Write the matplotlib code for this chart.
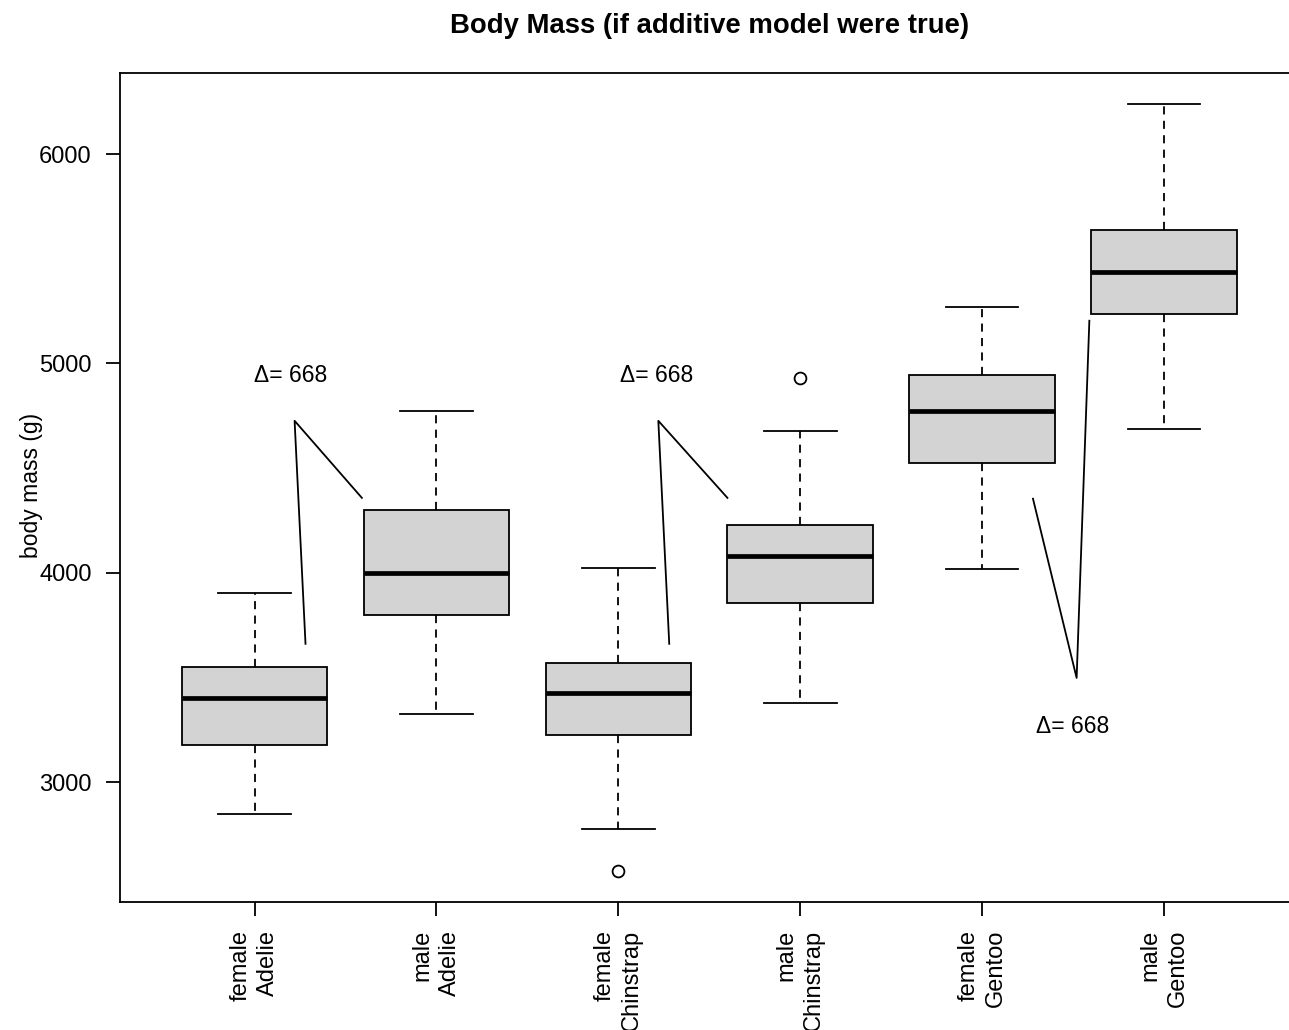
import matplotlib
matplotlib.use("Agg")
import matplotlib.pyplot as plt

plt.rcParams['font.family'] = ['Liberation Sans', 'DejaVu Sans']

# Group labels (sex / species) and box summary statistics in grams
labels = ["female\nAdelie", "male\nAdelie", "female\nChinstrap",
          "male\nChinstrap", "female\nGentoo", "male\nGentoo"]
whislo = [2850, 3325, 2775, 3380, 4020, 4685]
q1 = [3180, 3797, 3225, 3855, 4525, 5235]
med = [3402, 3999, 3425, 4080, 4773, 5435]
q3 = [3551, 4298, 3571, 4229, 4945, 5635]
whishi = [3904, 4774, 4022, 4679, 5270, 6240]
fliers = [[], [], [2575], [4930], [], []]

yticks = [3000, 4000, 5000, 6000]

# Connector lines showing the additive shift between female and male groups
delta_value = 668
conn_x = [[1.28, 1.22, 1.59], [3.28, 3.22, 3.60], [5.28, 5.52, 5.59]]
conn_y = [[3661, 4726, 4358], [3661, 4726, 4358], [4354, 3498, 5204]]
delta_x = [1.20, 3.21, 5.50]
delta_y = [4940, 4940, 3265]

LW = 1.3
W, H, DPI = 1289, 1030, 100
fig = plt.figure(figsize=(W / DPI, H / DPI), dpi=DPI)
ax = fig.add_axes([120 / W, 1 - 902 / H, 1178.5 / W, (902 - 73) / H])

stats = []
for i in range(len(labels)):
    stats.append(dict(med=med[i], q1=q1[i], q3=q3[i],
                      whislo=whislo[i], whishi=whishi[i],
                      fliers=fliers[i], label=labels[i]))

positions = list(range(1, len(labels) + 1))
ax.bxp(stats, positions=positions, widths=0.8, capwidths=0.4,
       patch_artist=True, showfliers=True,
       boxprops=dict(facecolor='#D3D3D3', edgecolor='black', linewidth=LW),
       whiskerprops=dict(color='black', linewidth=LW, linestyle=(0, (4.5, 3.5))),
       capprops=dict(color='black', linewidth=LW),
       medianprops=dict(color='black', linewidth=3.4, solid_capstyle='butt'),
       flierprops=dict(marker='o', markersize=8.5, markerfacecolor='none',
                       markeredgecolor='black', markeredgewidth=LW))

for xs, ys in zip(conn_x, conn_y):
    ax.plot(xs, ys, color='black', linewidth=LW)
for x, y in zip(delta_x, delta_y):
    ax.text(x, y, "\u0394= %d" % delta_value, ha='center', va='center',
            fontsize=16.5)

ax.set_xlim(0.26, 6.74)
ax.set_ylim(2428, 6387)
ax.set_yticks(yticks)
ax.set_yticklabels([str(v) for v in yticks], fontsize=17)
ax.set_xticks(positions)
ax.set_xticklabels(labels, fontsize=17, rotation=90, ha='center',
                   va='top', multialignment='right')
ax.tick_params(axis='both', length=10, width=LW, direction='out')
ax.tick_params(axis='y', pad=10.5)
ax.tick_params(axis='x', pad=10)
for lbl in ax.get_xticklabels():
    lbl.set_linespacing(1.3)
for sp in ax.spines.values():
    sp.set_linewidth(LW)

ax.set_title("Body Mass (if additive model were true)", fontsize=19.8,
             fontweight='bold', pad=28.8)
fig.text(31.5 / W, 1 - 485 / H, "body mass (g)", rotation=90,
         ha='center', va='center', fontsize=16.5)

fig.savefig("out.png", dpi=DPI)
